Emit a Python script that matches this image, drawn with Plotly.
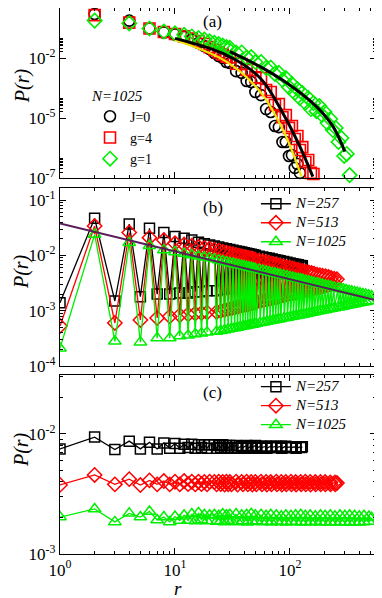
import plotly.graph_objects as go
from plotly.subplots import make_subplots

# ---- panel (a): N=1025, even r only ----
r_a = [2, 4, 6, 8, 10, 12, 14, 16, 18, 20, 22, 24, 26, 28, 30, 34, 38, 42, 46, 50,
       56, 62, 68, 74, 80, 86, 92, 98, 104, 110, 116, 122, 128, 136, 144, 152, 160,
       170, 180, 190, 200, 212, 224, 236, 250, 264, 280, 296, 312, 330]
p_J0 = [1.58, 0.74, 0.30, 0.19, 0.15, 0.112, 0.083, 0.056, 0.040, 0.028, 0.0178, 0.0126,
        0.010, 6.3e-3, 5.6e-3, 2.2e-3, 1.8e-3, 7.1e-4, 6.3e-4, 2.0e-4, 1.4e-4, 2.8e-5,
        2.0e-5, 4.0e-6, 3.5e-6, 6.3e-7, 6.3e-7, 1.26e-7, 1.4e-7, 3.2e-8, 5.0e-8, 1.8e-8,
        7.9e-9]
p_g4 = [1.4, 0.59, 0.30, 0.20, 0.158, 0.12, 0.095, 0.071, 0.050, 0.035, 0.025, 0.019,
        0.0148, 0.0117, 0.0107, 5.2e-3, 5.0e-3, 2.5e-3, 2.5e-3, 1.1e-3, 1.0e-3, 2.5e-4,
        2.0e-4, 4.5e-5, 5.0e-5, 1.1e-5, 1.4e-5, 3.2e-6, 4.0e-6, 8.9e-7, 1.26e-6, 2.5e-7,
        3.5e-7, 6.3e-8, 7.9e-8, 1.8e-8, 1.6e-8]
p_g1 = [0.74, 0.54, 0.30, 0.21, 0.17, 0.145, 0.12, 0.10, 0.083, 0.069, 0.058, 0.050,
        0.042, 0.035, 0.032, 0.019, 0.019, 0.0105, 0.0112, 6.3e-3, 6.3e-3, 3.2e-3, 3.3e-3,
        1.6e-3, 1.8e-3, 7.9e-4, 1.0e-3, 3.5e-4, 5.0e-4, 1.8e-4, 2.8e-4, 1.0e-4, 1.8e-4,
        5.6e-5, 1.0e-4, 2.8e-5, 5.6e-5, 2.2e-5, 4.0e-5, 1.4e-5, 2.0e-5, 5.6e-6, 8.9e-6,
        2.5e-6, 3.2e-6, 6.3e-7, 1.0e-6, 1.26e-7, 1.6e-7, 1.4e-8]

# fitted curves in panel (a)
r_fit_J0 = [10, 28, 55, 87, 126]
p_fit_J0 = [0.0794, 6.6e-3, 2.09e-4, 2.5e-6, 1.17e-8]
r_fit_g4 = [10, 28, 55, 87, 122, 158]
p_fit_g4 = [0.0955, 0.0141, 1.0e-3, 1.7e-5, 3.7e-7, 1.17e-8]
r_fit_g1 = [30, 55, 94, 170, 237, 300]
p_fit_g1 = [0.0209, 3.72e-3, 5.62e-4, 3.7e-5, 3.7e-6, 2.09e-7]

# ---- panel (b) ----
r_head = [1, 2, 3, 4, 5, 6, 7, 8, 9, 10, 11, 12, 13, 14, 15, 16, 17, 18, 19, 20]
rb_mid = [22, 23, 24, 25, 26, 27, 28, 29, 30, 31, 32, 33, 34, 35, 36, 37, 38, 39, 40, 41,
          42, 43, 44, 45, 46, 47, 48, 49, 50, 51, 54, 55, 58, 59, 62, 63, 66, 67, 70, 71,
          74, 75, 78, 79, 82, 83, 88, 89, 94, 95, 100, 101, 106, 107, 112, 113, 118, 119, 124, 125]
rb_tail1 = [130, 131, 138, 139, 146, 147, 154, 155, 162, 163, 172, 173, 182, 183, 192, 193,
            204, 205, 216, 217, 228, 229, 242, 243]
rb_tail2 = [262, 263, 276, 277, 292, 293, 308, 309, 326, 327, 344, 345, 364, 365, 384, 385,
            406, 407, 430, 431, 456, 457, 484, 485]
rb_257 = r_head + rb_mid + [128]
rb_513 = r_head + rb_mid + rb_tail1 + [256]
rb_1025 = r_head + rb_mid + rb_tail1 + rb_tail2 + [512]

pb_257 = [1.4e-3, 0.047, 1.5e-3, 0.037, 1.8e-3, 0.031, 2.0e-3, 0.026, 2.0e-3, 0.022,
          2.1e-3, 0.0204, 2.1e-3, 0.019, 2.2e-3, 0.0174, 2.2e-3, 0.0163, 2.3e-3, 0.0155,
          0.0148, 2.3e-3, 0.0142, 2.4e-3, 0.0137, 2.5e-3, 0.0132, 2.6e-3, 0.0128, 2.7e-3,
          0.0124, 2.8e-3, 0.0121, 2.9e-3, 0.0118, 3.0e-3, 0.0115, 3.1e-3, 0.0112, 3.2e-3,
          0.0110, 3.3e-3, 0.0107, 3.4e-3, 0.0105, 3.5e-3, 0.0103, 3.6e-3, 0.0101, 3.7e-3,
          0.0097, 3.8e-3, 0.0094, 4.0e-3, 0.0091, 4.1e-3, 0.0089, 4.3e-3, 0.0086, 4.4e-3,
          0.0084, 4.6e-3, 0.0082, 4.7e-3, 0.0080, 4.9e-3, 0.0078, 5.1e-3, 0.0075, 5.3e-3,
          0.0073, 5.5e-3, 0.0071, 5.6e-3, 0.0069, 5.8e-3, 0.0068, 6.0e-3, 0.0066, 6.2e-3,
          0.0065]
pb_513 = [5.3e-4, 0.034, 6.0e-4, 0.026, 6.8e-4, 0.021, 7.4e-4, 0.019, 7.9e-4, 0.0166,
          8.3e-4, 0.0158, 8.6e-4, 0.0150, 8.9e-4, 0.0143, 9.1e-4, 0.0137, 9.3e-4, 0.0132,
          0.0127, 9.5e-4, 0.0122, 9.9e-4, 0.0117, 1.03e-3, 0.0113, 1.07e-3, 0.0109, 1.10e-3,
          0.0105, 1.14e-3, 0.0102, 1.17e-3, 0.0099, 1.21e-3, 0.0097, 1.24e-3, 0.0094, 1.27e-3,
          0.0092, 1.30e-3, 0.0090, 1.33e-3, 0.0088, 1.36e-3, 0.0086, 1.39e-3, 0.0084, 1.42e-3,
          0.0081, 1.48e-3, 0.0078, 1.53e-3, 0.0076, 1.58e-3, 0.0073, 1.63e-3, 0.0071, 1.68e-3,
          0.0069, 1.73e-3, 0.0067, 1.77e-3, 0.0066, 1.81e-3, 0.0064, 1.88e-3, 0.0061, 1.94e-3,
          0.0060, 2.0e-3, 0.0058, 2.06e-3, 0.0056, 2.12e-3, 0.0055, 2.18e-3, 0.0053, 2.23e-3,
          0.0052, 2.29e-3, 0.0051, 2.36e-3, 0.0049, 2.42e-3, 0.0048, 2.49e-3, 0.0047, 2.55e-3,
          0.0045, 2.63e-3, 0.0044, 2.71e-3, 0.0043, 2.78e-3, 0.0042, 2.87e-3, 0.0041, 2.95e-3,
          0.0039, 3.03e-3, 0.0038, 3.12e-3, 0.0037]
pb_1025 = [2.1e-4, 0.024, 2.8e-4, 0.017, 2.7e-4, 0.015, 3.2e-4, 0.0126, 3.2e-4, 0.0115,
           3.5e-4, 0.0108, 3.6e-4, 0.0102, 3.8e-4, 0.0097, 3.9e-4, 0.0093, 4.1e-4, 0.0090,
           8.6e-3, 4.2e-4, 8.24e-3, 4.35e-4, 7.93e-3, 4.49e-4, 7.65e-3, 4.63e-4, 7.40e-3, 4.76e-4,
           7.17e-3, 4.88e-4, 6.96e-3, 5.0e-4, 6.76e-3, 5.12e-4, 6.59e-3, 5.23e-4, 6.42e-3, 5.34e-4,
           6.27e-3, 5.45e-4, 6.13e-3, 5.55e-4, 6.0e-3, 5.65e-4, 5.88e-3, 5.75e-4, 5.77e-3, 5.85e-4,
           5.55e-3, 6.04e-4, 5.36e-3, 6.22e-4, 5.19e-3, 6.39e-4, 5.03e-3, 6.56e-4, 4.89e-3, 6.72e-4,
           4.76e-3, 6.87e-4, 4.64e-3, 7.02e-4, 4.53e-3, 7.17e-4, 4.37e-3, 7.38e-4, 4.24e-3, 7.58e-4,
           4.11e-3, 7.78e-4, 3.99e-3, 7.96e-4, 3.89e-3, 8.14e-4, 3.79e-3, 8.32e-4, 3.70e-3, 8.49e-4,
           3.62e-3, 8.65e-4, 3.51e-3, 8.86e-4, 3.42e-3, 9.09e-4, 3.33e-3, 9.3e-4, 3.25e-3, 9.5e-4,
           3.15e-3, 9.74e-4, 3.07e-3, 9.97e-4, 2.99e-3, 1.02e-3, 2.90e-3, 1.045e-3, 2.82e-3, 1.07e-3,
           2.75e-3, 1.096e-3, 2.67e-3, 1.12e-3,
           2.57e-3, 1.16e-3, 2.50e-3, 1.18e-3, 2.44e-3, 1.21e-3, 2.38e-3, 1.24e-3, 2.31e-3, 1.27e-3,
           2.25e-3, 1.30e-3, 2.19e-3, 1.33e-3, 2.13e-3, 1.36e-3, 2.07e-3, 1.39e-3, 2.01e-3, 1.42e-3,
           1.96e-3, 1.46e-3, 1.90e-3, 1.50e-3, 1.85e-3]
# power-law guide line in (b)
r_guide = [1, 560]
p_guide = [0.038, 1.55e-3]

# ---- panel (c) ----
rc_mid = [22, 23, 24, 25, 26, 27, 28, 29, 30, 31, 34, 35, 38, 39, 42, 43, 46, 47, 50, 51,
          56, 57, 62, 63, 68, 69, 76, 77, 84, 85, 92, 93, 102, 103, 112, 113, 124, 125]
rc_tail1 = [136, 137, 150, 151, 166, 167, 184, 185, 202, 203, 224, 225, 246, 247]
rc_tail2 = [272, 273, 300, 301, 330, 331, 364, 365, 400, 401, 440, 441, 486, 487]
rc_257 = r_head + rc_mid + [128]
rc_513 = r_head + rc_mid + rc_tail1 + [256]
rc_1025 = r_head + rc_mid + rc_tail1 + rc_tail2 + [512]

pc_257 = [7.5e-3, 9.4e-3, 7.4e-3, 8.7e-3, 7.5e-3, 8.5e-3, 7.5e-3, 8.4e-3, 7.6e-3, 8.3e-3,
          7.6e-3, 8.2e-3, 7.7e-3, 8.2e-3, 7.6e-3, 8.1e-3, 7.7e-3, 8.1e-3, 7.6e-3, 8.1e-3,
          8.1e-3, 7.6e-3, 8.0e-3, 7.7e-3, 8.1e-3, 7.6e-3, 8.0e-3, 7.6e-3, 8.0e-3, 7.7e-3,
          8.0e-3, 7.6e-3, 7.9e-3, 7.7e-3, 8.0e-3, 7.6e-3, 7.9e-3, 7.7e-3, 8.0e-3, 7.6e-3,
          7.9e-3, 7.7e-3, 7.9e-3, 7.6e-3, 7.9e-3, 7.7e-3, 7.9e-3, 7.7e-3, 7.9e-3, 7.6e-3,
          7.9e-3, 7.7e-3, 7.8e-3, 7.7e-3, 7.8e-3, 7.6e-3, 7.8e-3, 7.7e-3, 7.8e-3]
pc_513 = [3.76e-3, 4.55e-3, 3.8e-3, 4.2e-3, 3.75e-3, 4.1e-3, 3.8e-3, 4.05e-3, 3.8e-3, 4.0e-3,
          3.8e-3, 4.05e-3, 3.82e-3, 4.0e-3, 3.8e-3, 4.0e-3, 3.82e-3, 3.98e-3, 3.8e-3, 4.0e-3,
          3.98e-3, 3.8e-3, 4.0e-3, 3.82e-3, 3.98e-3, 3.78e-3, 4.0e-3, 3.8e-3, 3.97e-3, 3.8e-3,
          4.0e-3, 3.78e-3, 3.98e-3, 3.8e-3, 4.0e-3, 3.8e-3, 3.97e-3, 3.78e-3, 3.98e-3, 3.8e-3,
          4.0e-3, 3.8e-3, 3.98e-3, 3.78e-3, 3.97e-3, 3.8e-3, 4.0e-3, 3.8e-3, 3.98e-3, 3.78e-3,
          3.98e-3, 3.8e-3, 4.0e-3, 3.8e-3, 3.97e-3, 3.78e-3, 3.98e-3, 3.8e-3,
          4.0e-3, 3.8e-3, 3.98e-3, 3.78e-3, 3.97e-3, 3.8e-3, 3.98e-3, 3.8e-3, 3.97e-3, 3.8e-3,
          3.95e-3, 3.8e-3, 3.95e-3, 3.8e-3, 3.9e-3]
pc_1025 = [2.03e-3, 2.37e-3, 1.85e-3, 2.18e-3, 2.03e-3, 2.26e-3, 1.92e-3, 2.03e-3, 1.85e-3, 2.05e-3,
           1.9e-3, 2.1e-3, 1.9e-3, 2.15e-3, 1.88e-3, 2.2e-3, 1.92e-3, 2.12e-3, 1.88e-3, 2.1e-3,
           2.12e-3, 1.86e-3, 2.08e-3, 1.88e-3, 2.15e-3, 1.85e-3, 2.1e-3, 1.9e-3, 2.12e-3, 1.86e-3,
           2.15e-3, 1.85e-3, 2.1e-3, 1.88e-3, 2.12e-3, 1.84e-3, 2.16e-3, 1.86e-3, 2.1e-3, 1.88e-3,
           2.12e-3, 1.85e-3, 2.08e-3, 1.86e-3, 2.12e-3, 1.84e-3, 2.1e-3, 1.87e-3, 2.06e-3, 1.85e-3,
           2.1e-3, 1.84e-3, 2.08e-3, 1.86e-3, 2.1e-3, 1.85e-3, 2.12e-3, 1.84e-3,
           2.08e-3, 1.85e-3, 2.1e-3, 1.84e-3, 2.06e-3, 1.86e-3, 2.1e-3, 1.84e-3, 2.08e-3, 1.85e-3,
           2.1e-3, 1.84e-3, 2.06e-3, 1.85e-3,
           2.1e-3, 1.84e-3, 2.08e-3, 1.85e-3, 2.1e-3, 1.83e-3, 2.08e-3, 1.85e-3, 2.06e-3, 1.84e-3,
           2.08e-3, 1.85e-3, 2.05e-3, 1.86e-3, 2.0e-3]

BLACK, RED, GREEN = "#000000", "#ff0000", "#00ee00"
YELLOW, PURPLE = "#f2e600", "#5a1d5a"
SERIF = "Liberation Serif, Times New Roman, serif"

fig = make_subplots(rows=3, cols=1)

# (a)
for p, name, sym, col in [(p_J0, "J=0", "circle-open", BLACK),
                          (p_g4, "g=4", "square-open", RED),
                          (p_g1, "g=1", "diamond-open", GREEN)]:
    fig.add_trace(go.Scatter(x=r_a[:len(p)], y=p, mode="markers", name=name, legend="legend",
                             cliponaxis=False,
                             marker=dict(symbol=sym, size=11, color=col, line=dict(width=1.6))),
                  row=1, col=1)
fig.add_trace(go.Scatter(x=r_fit_J0, y=p_fit_J0, mode="lines", line=dict(color=YELLOW, width=2.2, shape="spline"),
                         showlegend=False), row=1, col=1)
fig.add_trace(go.Scatter(x=r_fit_g4, y=p_fit_g4, mode="lines", line=dict(color=BLACK, width=3, shape="spline"),
                         showlegend=False), row=1, col=1)
fig.add_trace(go.Scatter(x=r_fit_g1, y=p_fit_g1, mode="lines", line=dict(color=BLACK, width=3, shape="spline"),
                         showlegend=False), row=1, col=1)

# (b) and (c); the span keeps the legend text large while rows stay tight
styles = [("<span style='font-size:15px'><i>N=257</i></span>", "square-open", BLACK, 10),
          ("<span style='font-size:15px'><i>N=513</i></span>", "diamond-open", RED, 11),
          ("<span style='font-size:15px'><i>N=1025</i></span>", "triangle-up-open", GREEN, 11)]
panels = [(2, [(rb_257, pb_257), (rb_513, pb_513), (rb_1025, pb_1025)], "legend2"),
          (3, [(rc_257, pc_257), (rc_513, pc_513), (rc_1025, pc_1025)], "legend3")]
for row, data, leg in panels:
    for (name, sym, col, size), (r, p) in zip(styles, data):
        fig.add_trace(go.Scatter(x=r, y=p, mode="lines+markers", name=name, legend=leg,
                                 line=dict(color=col, width=1.3),
                                 marker=dict(symbol=sym, size=size, color=col, line=dict(width=1.5))),
                      row=row, col=1)
fig.add_trace(go.Scatter(x=r_guide, y=p_guide, mode="lines", line=dict(color=PURPLE, width=2),
                         showlegend=False), row=2, col=1)

axis_common = dict(type="log", showline=True, linecolor="black", linewidth=1.2, mirror="ticks",
                   ticks="inside", ticklen=6, tickwidth=1, tickcolor="black", showgrid=False,
                   zeroline=False, automargin=False,
                   tickfont=dict(family=SERIF, size=17, color="black"))

x_minor = [k * 10 ** e for e in range(0, 3) for k in range(2, 10)]
for i in (1, 2, 3):
    fig.update_xaxes(range=[0, 2.748], tickvals=[1, 10, 100],
                     ticktext=["10<sup>0</sup>", "10<sup>1</sup>", "10<sup>2</sup>"],
                     showticklabels=(i == 3),
                     minor=dict(tickvals=x_minor, ticks="inside", ticklen=3, tickcolor="black"),
                     row=i, col=1, **axis_common)

fig.update_yaxes(range=[-8, 0.5], domain=[0.6886, 1.0], tickvals=[1e-8, 1e-5, 1e-2],
                 ticktext=["10<sup>-7</sup>", "10<sup>-5</sup>", "10<sup>-2</sup>"],
                 minor=dict(tickvals=[k * 10.0 ** e for e in (-8, -5, -2) for k in range(2, 10)],
                            ticks="inside", ticklen=3, tickcolor="black"),
                 row=1, col=1, **axis_common)
fig.update_yaxes(range=[-4, -0.78], domain=[0.3443, 0.6703], tickvals=[1e-4, 1e-3, 1e-2, 1e-1],
                 ticktext=["10<sup>-4</sup>", "10<sup>-3</sup>", "10<sup>-2</sup>", "10<sup>-1</sup>"],
                 minor=dict(tickvals=[k * 10.0 ** e for e in (-4, -3, -2, -1) for k in range(2, 10)],
                            ticks="inside", ticklen=3, tickcolor="black"),
                 row=2, col=1, **axis_common)
fig.update_yaxes(range=[-3, -1.51], domain=[0.0, 0.3278], tickvals=[1e-3, 1e-2],
                 ticktext=["10<sup>-3</sup>", "10<sup>-2</sup>"],
                 minor=dict(tickvals=[k * 10.0 ** e for e in (-3, -2) for k in range(2, 10)],
                            ticks="inside", ticklen=3, tickcolor="black"),
                 row=3, col=1, **axis_common)

legend_common = dict(xanchor="left", yanchor="top", bgcolor="rgba(0,0,0,0)", borderwidth=0,
                     tracegroupgap=0, itemwidth=30)
annotations = [
    dict(text="(a)", x=0.484, y=0.9744), dict(text="(b)", x=0.484, y=0.6355),
    dict(text="(c)", x=0.484, y=0.2949),
]
annotations = [dict(a, xref="paper", yref="paper", showarrow=False, xanchor="center", yanchor="middle",
                    font=dict(family=SERIF, size=17, color="black")) for a in annotations]
for yp in (0.857, 0.5165, 0.1905):
    annotations.append(dict(text="<i>P(r)</i>", x=-0.12, y=yp, xref="paper", yref="paper",
                            showarrow=False, textangle=-90, xanchor="center", yanchor="middle",
                            font=dict(family=SERIF, size=20, color="black")))
annotations.append(dict(text="<i>r</i>", x=0.373, y=-0.063, xref="paper", yref="paper",
                        showarrow=False, xanchor="center", yanchor="middle",
                        font=dict(family=SERIF, size=19, color="black")))

# the page body adds an 8px offset, so the figure is 8px smaller than the window
fig.update_layout(
    width=374, height=590,
    margin=dict(l=52, r=6, t=0, b=44),
    plot_bgcolor="white", paper_bgcolor="white",
    legend=dict(x=0.095, y=0.866, title=dict(text="<i>N=1025</i>",
                font=dict(family=SERIF, size=15, color="black")),
                font=dict(family=SERIF, size=14, color="black"), **legend_common),
    legend2=dict(x=0.62, y=0.668, font=dict(family=SERIF, size=12, color="black"), **legend_common),
    legend3=dict(x=0.62, y=0.333, font=dict(family=SERIF, size=12, color="black"), **legend_common),
    annotations=annotations,
)

fig.write_html("out.html")
